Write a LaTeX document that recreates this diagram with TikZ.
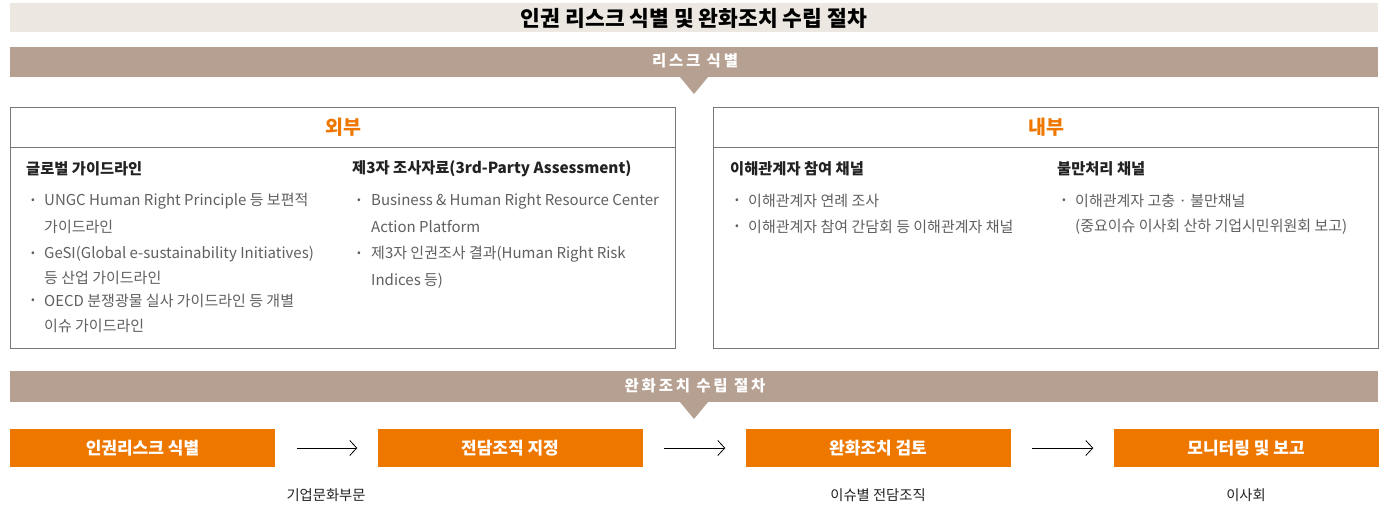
\documentclass[tikz,border=0pt]{standalone}
\usepackage{fontspec}
\setmainfont{Noto Sans CJK KR}
\usetikzlibrary{arrows.meta}
\definecolor{titlebg}{HTML}{ECE7E1}
\definecolor{bandc}{HTML}{B6A091}
\definecolor{orangec}{HTML}{EE7700}
\definecolor{bodyc}{HTML}{606060}
\definecolor{headc}{HTML}{222222}
\definecolor{framec}{HTML}{777777}
\begin{document}
\begin{tikzpicture}[x=1pt,y=-1pt,
  titletxt/.style={font=\fontsize{21.5}{21.5}\selectfont\bfseries, text=black, inner sep=0},
  bandtxt/.style={font=\fontsize{15.5}{15.5}\selectfont\bfseries\addfontfeature{LetterSpace=18}, text=white, inner sep=0},
  frame/.style={draw=framec, line width=0.8pt, minimum width=665pt, minimum height=241pt, inner sep=0},
  sect/.style={font=\fontsize{19.5}{19.5}\selectfont\bfseries, text=orangec, inner sep=0},
  head/.style={anchor=west, font=\fontsize{15.3}{15.3}\selectfont\bfseries, text=headc, inner sep=0},
  item/.style={anchor=west, font=\fontsize{15}{15}\selectfont, text=bodyc, inner sep=0},
  bul/.style={font=\fontsize{11}{11}\selectfont, text=bodyc, inner sep=0},
  stepbox/.style={fill=orangec, minimum width=265pt, minimum height=38pt, inner sep=0, text=white, font=\fontsize{17}{17}\selectfont\bfseries},
  arr/.style={-{Straight Barb[length=7pt,width=15pt]}, line width=0.8pt},
  lab/.style={font=\fontsize{14.3}{14.3}\selectfont, text=headc, inner sep=0}
]
\useasboundingbox (0,0) rectangle (1382,511);
\fill[white] (0,0) rectangle (1382,511);
% title
\fill[titlebg] (10,3) rectangle (1378,32);
\node[titletxt] (title) at (694,18) {인권 리스크 식별 및 완화조치 수립 절차};
% band 1
\fill[bandc] (10,47) rectangle (1378,77);
\fill[bandc] (680,77) -- (708,77) -- (694,94) -- cycle;
\node[bandtxt] (band1) at (695,61) {리스크 식별};
% frames
\node[frame] (ext) at (342.5,227.5) {};
\node[frame] (int) at (1046,227.5) {};
\draw[framec, line width=0.8pt] (ext.west |- 0,147) -- (ext.east |- 0,147);
\draw[framec, line width=0.8pt] (int.west |- 0,147) -- (int.east |- 0,147);
\node[sect] (extT) at (343,127) {외부};
\node[sect] (intT) at (1046,127) {내부};
% external left
\node[head] (h1) at (26,169) {글로벌 가이드라인};
\node[bul] (b11) at (33,201) {•};
\node[item] (t11) at (44,201) {UNGC Human Right Principle 등 보편적};
\node[item] (t12) at (44,227) {가이드라인};
\node[bul] (b12) at (33,254) {•};
\node[item] (t13) at (44,254) {GeSI(Global e-sustainability Initiatives)};
\node[item] (t14) at (44,278) {등 산업 가이드라인};
\node[bul] (b13) at (33,301) {•};
\node[item] (t15) at (44,301) {OECD 분쟁광물 실사 가이드라인 등 개별};
\node[item] (t16) at (44,326) {이슈 가이드라인};
% external right
\node[head] (h2) at (352,169) {제3자 조사자료(3rd-Party Assessment)};
\node[bul] (b21) at (359,201) {•};
\node[item] (t21) at (371,201) {Business \& Human Right Resource Center};
\node[item] (t22) at (371,227) {Action Platform};
\node[bul] (b22) at (359,254) {•};
\node[item] (t23) at (371,254) {제3자 인권조사 결과(Human Right Risk};
\node[item] (t24) at (371,281) {Indices 등)};
% internal left
\node[head] (h3) at (730,169) {이해관계자 참여 채널};
\node[bul] (b31) at (737,201) {•};
\node[item] (t31) at (748,201) {이해관계자 연례 조사};
\node[bul] (b32) at (737,227) {•};
\node[item] (t32) at (748,227) {이해관계자 참여 간담회 등 이해관계자 채널};
% internal right
\node[head] (h4) at (1057,169) {불만처리 채널};
\node[bul] (b41) at (1064,201) {•};
\node[item] (t41) at (1075,201) {이해관계자 고충 · 불만채널};
\node[item] (t42) at (1075,227) {(중요이슈 이사회 산하 기업시민위원회 보고)};
% band 2
\fill[bandc] (10,371) rectangle (1378,402);
\fill[bandc] (680,402) -- (708,402) -- (694,419) -- cycle;
\node[bandtxt] (band2) at (695,386) {완화조치 수립 절차};
% steps
\node[stepbox] (s1) at (142.5,448) {인권리스크 식별};
\node[stepbox] (s2) at (510,448) {전담조직 지정};
\node[stepbox] (s3) at (878,448) {완화조치 검토};
\node[stepbox] (s4) at (1246,448) {모니터링 및 보고};
\draw[arr] ([xshift=22pt]s1.east) -- ([xshift=-20pt]s2.west);
\draw[arr] ([xshift=21pt]s2.east) -- ([xshift=-20pt]s3.west);
\draw[arr] ([xshift=21pt]s3.east) -- ([xshift=-20pt]s4.west);
% labels
\node[lab] (l1) at (326,495) {기업문화부문};
\node[lab] (l3) at (878,495) {이슈별 전담조직};
\node[lab] (l4) at (1246,495) {이사회};
\end{tikzpicture}
\end{document}
